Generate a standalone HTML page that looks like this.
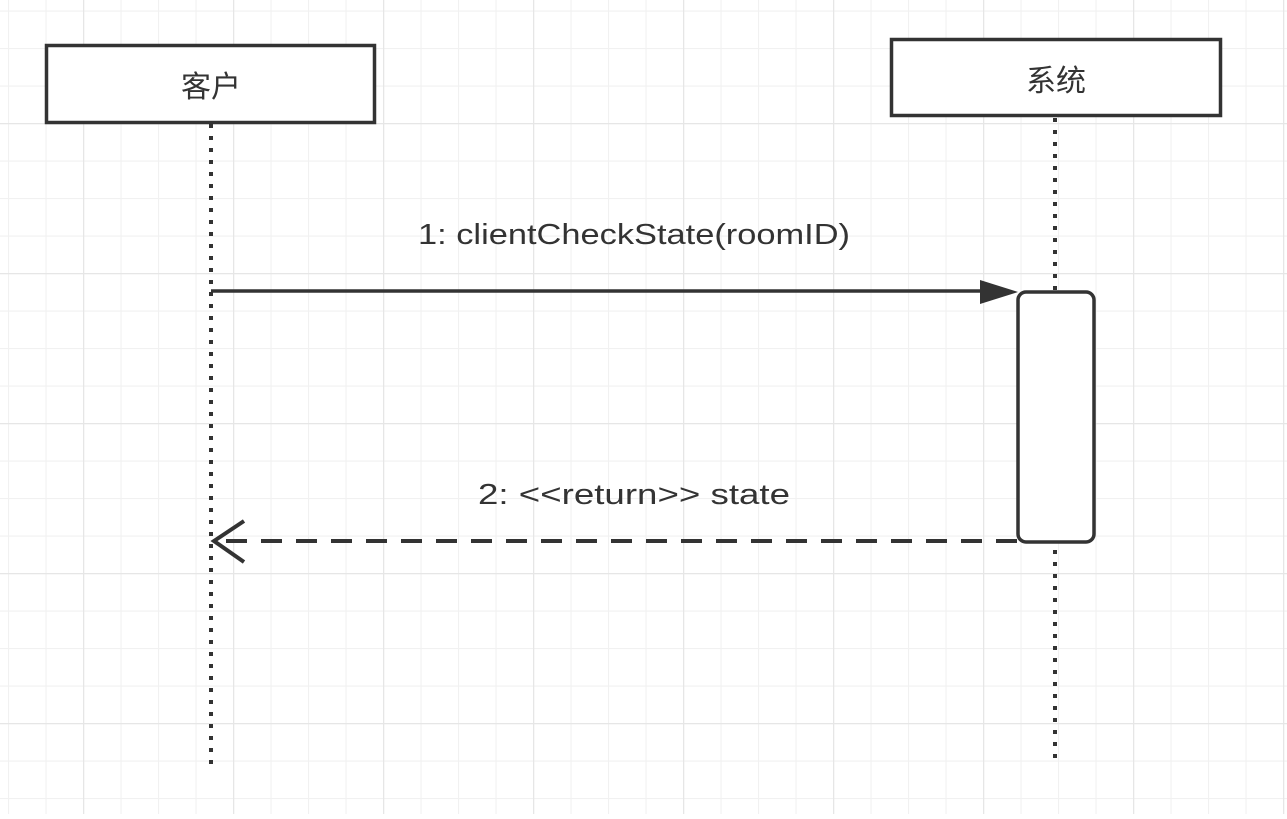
<!DOCTYPE html>
<html><head><meta charset="utf-8"><style>
html,body{margin:0;padding:0;background:#fff;}
body{width:1287px;height:814px;overflow:hidden;}
</style></head><body>
<svg width="1287" height="814" xmlns="http://www.w3.org/2000/svg">
<defs>
<pattern id="g" x="8" y="10.5" width="37.5" height="37.5" patternUnits="userSpaceOnUse">
<path d="M0.5 0 V37.5 M0 0.5 H37.5" stroke="#f1f1f1" stroke-width="1.2" fill="none"/>
</pattern>
<pattern id="G" x="83" y="123" width="150" height="150" patternUnits="userSpaceOnUse">
<path d="M0.5 0 V150 M0 0.5 H150" stroke="#e6e6e6" stroke-width="1.5" fill="none"/>
</pattern>
</defs>
<rect width="1287" height="814" fill="url(#g)"/>
<rect width="1287" height="814" fill="url(#G)"/>
<line x1="211" y1="124" x2="211" y2="766" stroke="#333" stroke-width="4" stroke-dasharray="4 8"/>
<line x1="1055" y1="118" x2="1055" y2="758" stroke="#333" stroke-width="4" stroke-dasharray="4 8"/>
<rect x="46.5" y="45.5" width="328" height="77" fill="#fff" stroke="#333" stroke-width="3.5"/>
<text x="211" y="97" font-family="Liberation Sans, Noto Sans CJK SC, sans-serif" font-size="30" fill="#333" text-anchor="middle">客户</text>
<rect x="891.5" y="39.5" width="329" height="76" fill="#fff" stroke="#333" stroke-width="3.5"/>
<text x="1056" y="91" font-family="Liberation Sans, Noto Sans CJK SC, sans-serif" font-size="30" fill="#333" text-anchor="middle">系统</text>
<line x1="211" y1="291" x2="985" y2="291" stroke="#333" stroke-width="3.5"/>
<polygon points="980,280 1018,292 980,304" fill="#333"/>
<rect x="1018" y="292" width="76" height="250" rx="8" fill="#fff" stroke="#333" stroke-width="3.5"/>
<text x="418" y="244" font-family="Liberation Sans, Noto Sans CJK SC, sans-serif" font-size="29" fill="#333" textLength="432" lengthAdjust="spacingAndGlyphs">1: clientCheckState(roomID)</text>
<line x1="1017" y1="541" x2="216" y2="541" stroke="#333" stroke-width="4" stroke-dasharray="21 14"/>
<polyline points="244,521 214,541 244,562" fill="none" stroke="#333" stroke-width="4"/>
<text x="478" y="504" font-family="Liberation Sans, Noto Sans CJK SC, sans-serif" font-size="29" fill="#333" textLength="312" lengthAdjust="spacingAndGlyphs">2: &lt;&lt;return&gt;&gt; state</text>
</svg>
</body></html>
